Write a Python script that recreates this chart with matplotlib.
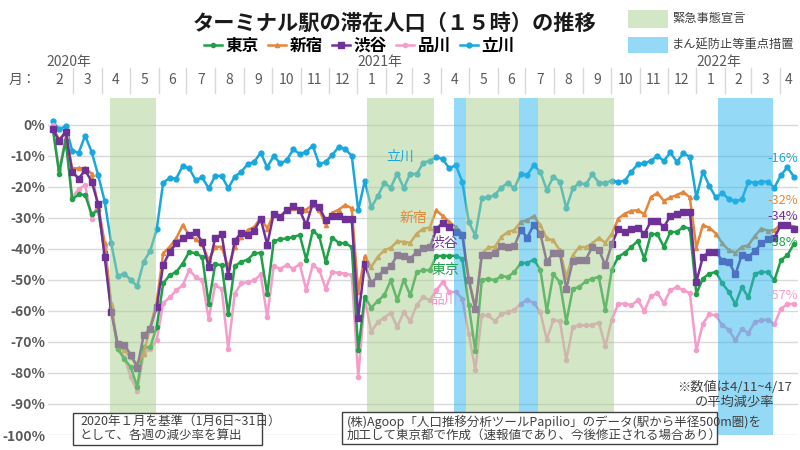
import matplotlib
matplotlib.use("Agg")
import matplotlib.pyplot as plt
import pandas as pd
from matplotlib.patches import Rectangle
from matplotlib.transforms import blended_transform_factory

plt.rcParams['font.family'] = ['Noto Sans CJK JP', 'DejaVu Sans']

# weekly data (week of 2020-02-03 ... week of 2022-04-11), % change vs Jan 2020
week_starts = pd.date_range("2020-02-03", "2022-04-11", freq="7D")

tokyo = [
    -1.0, -15.8, -5.0, -24.1, -22.5, -22.7, -28.9, -27.6, -41.0, -58.8,
    -72.2, -75.4, -78.1, -84.4, -71.7, -71.7, -65.2, -51.2, -48.5, -47.5,
    -44.8, -41.0, -41.5, -42.6, -57.7, -45.0, -45.3, -61.1, -45.6, -44.2,
    -43.5, -41.5, -41.3, -54.7, -37.6, -36.9, -36.7, -36.2, -35.6, -43.5,
    -34.2, -36.0, -44.2, -36.4, -38.1, -38.3, -39.4, -72.7, -55.5, -59.0,
    -56.8, -55.0, -50.2, -56.6, -50.0, -55.0, -47.5, -46.9, -46.9, -42.4,
    -42.3, -42.3, -42.3, -43.2, -58.2, -72.9, -50.2, -49.6, -50.2, -48.8,
    -49.1, -47.5, -44.6, -44.6, -43.5, -46.7, -60.2, -48.2, -50.7, -63.6,
    -52.9, -52.3, -50.5, -49.6, -49.1, -59.8, -46.7, -42.6, -41.3, -39.4,
    -37.5, -43.2, -35.3, -35.3, -39.4, -34.6, -34.6, -33.0, -33.5, -54.5,
    -49.6, -48.0, -47.5, -51.2, -53.9, -57.9, -52.3, -55.7, -48.0, -47.5,
    -47.5, -50.2, -43.7, -42.1, -38.5,
]
shinjuku = [
    -1.0, -4.8, -2.8, -14.1, -14.1, -14.1, -15.8, -26.5, -38.0, -58.0,
    -71.1, -72.7, -74.9, -77.0, -73.8, -65.2, -57.2, -41.5, -39.4, -36.7,
    -32.4, -35.6, -37.0, -38.5, -43.7, -39.4, -39.4, -46.0, -39.4, -36.2,
    -34.0, -33.0, -30.0, -33.5, -28.7, -29.7, -27.4, -27.0, -27.6, -27.4,
    -25.9, -27.6, -32.2, -28.4, -27.4, -25.9, -27.0, -53.9, -42.4, -45.9,
    -42.6, -40.5, -39.7, -37.6, -37.8, -38.1, -35.1, -33.5, -33.2, -27.6,
    -29.5, -31.3, -33.0, -35.1, -49.6, -59.3, -41.6, -39.6, -39.4, -36.2,
    -34.6, -34.0, -31.3, -30.8, -29.5, -32.4, -36.7, -37.3, -40.5, -49.1,
    -42.1, -39.4, -39.5, -38.3, -36.5, -38.1, -35.1, -30.3, -28.7, -27.8,
    -27.6, -28.9, -23.5, -22.0, -24.6, -23.5, -22.7, -21.7, -23.5, -39.7,
    -32.4, -33.2, -35.1, -38.3, -40.5, -41.3, -39.4, -38.9, -35.9, -33.5,
    -34.2, -34.0, -32.1, -32.1, -32.9,
]
shibuya = [
    -1.5, -5.2, -2.3, -15.2, -17.4, -14.7, -18.4, -25.6, -42.6, -60.4,
    -70.6, -70.9, -74.1, -78.3, -67.9, -65.7, -58.8, -45.3, -41.0, -38.3,
    -36.7, -35.6, -34.6, -37.8, -45.9, -36.5, -35.4, -48.8, -37.5, -34.8,
    -35.6, -34.2, -30.3, -38.7, -28.7, -29.7, -27.6, -26.3, -27.6, -32.4,
    -25.4, -26.7, -30.8, -29.5, -29.3, -30.3, -30.5, -62.2, -45.0, -51.0,
    -48.9, -46.7, -45.6, -42.1, -42.4, -43.2, -41.0, -39.9, -39.6, -33.7,
    -31.6, -33.0, -34.6, -35.6, -50.2, -59.3, -42.1, -42.1, -41.3, -39.2,
    -39.4, -39.2, -34.0, -36.4, -32.2, -35.1, -44.2, -41.3, -41.3, -52.9,
    -43.9, -43.5, -43.5, -39.4, -40.3, -45.3, -38.5, -33.5, -34.6, -33.5,
    -33.2, -35.3, -31.1, -31.1, -33.0, -29.5, -28.9, -28.1, -28.1, -50.7,
    -42.6, -41.0, -41.0, -43.9, -44.2, -48.3, -41.9, -42.6, -40.7, -38.3,
    -37.0, -36.4, -32.4, -32.4, -33.8,
]
shinagawa = [
    -0.2, -14.5, -4.5, -23.5, -20.8, -19.5, -30.3, -25.5, -39.4, -57.7,
    -72.2, -74.9, -81.3, -85.9, -73.8, -72.2, -69.5, -57.5, -55.7, -53.4,
    -51.8, -46.9, -49.1, -50.2, -62.5, -51.8, -52.9, -72.2, -54.5, -51.2,
    -50.7, -50.2, -48.3, -62.0, -45.6, -46.4, -45.3, -46.4, -45.0, -53.2,
    -45.3, -46.7, -52.9, -47.5, -47.8, -48.0, -48.5, -81.3, -56.1, -66.8,
    -63.6, -62.2, -60.7, -65.2, -60.4, -63.3, -58.2, -55.5, -56.6, -53.4,
    -50.7, -53.9, -53.9, -56.1, -67.4, -79.0, -61.5, -61.5, -63.3, -61.1,
    -60.4, -59.8, -57.7, -56.4, -57.5, -60.4, -69.3, -63.0, -63.3, -75.8,
    -65.2, -64.7, -64.7, -64.5, -63.8, -71.4, -62.8, -57.7, -57.7, -58.2,
    -56.6, -60.0, -55.3, -54.3, -57.5, -53.4, -52.3, -53.4, -54.3, -72.7,
    -64.1, -61.1, -61.5, -64.7, -66.1, -69.5, -65.8, -67.2, -63.6, -63.1,
    -62.8, -64.4, -59.3, -57.9, -57.7,
]
tachikawa = [
    1.1, -1.6, -0.5, -8.4, -9.1, -3.6, -8.8, -16.3, -24.7, -38.1,
    -48.8, -48.0, -50.0, -52.1, -44.2, -40.7, -33.8, -18.7, -17.2, -17.4,
    -13.4, -14.1, -17.9, -17.0, -20.6, -16.5, -16.6, -20.5, -16.8, -15.2,
    -12.8, -12.0, -9.1, -13.8, -10.1, -12.5, -11.5, -8.0, -9.5, -8.8,
    -6.8, -12.8, -12.0, -9.8, -7.2, -7.9, -10.1, -27.6, -18.2, -26.7,
    -23.1, -18.8, -20.3, -15.8, -20.5, -15.8, -16.0, -12.3, -11.7, -10.4,
    -11.2, -14.1, -13.1, -18.4, -31.3, -35.8, -23.8, -23.5, -22.7, -20.3,
    -18.8, -20.6, -15.8, -16.3, -13.1, -15.2, -21.1, -16.8, -18.4, -27.0,
    -20.6, -18.8, -19.3, -16.0, -18.8, -18.8, -18.1, -18.4, -18.1, -15.2,
    -12.8, -12.5, -11.7, -10.1, -11.7, -9.0, -12.0, -9.3, -10.4, -23.5,
    -15.2, -19.8, -23.5, -22.0, -24.1, -24.7, -24.1, -18.4, -18.8, -18.4,
    -18.4, -20.3, -16.3, -13.8, -16.8,
]

emergency = [("2020-04-07", "2020-05-25"), ("2021-01-08", "2021-03-21"),
             ("2021-04-25", "2021-06-20"), ("2021-07-12", "2021-09-30")]
priority = [("2021-04-12", "2021-04-24"), ("2021-06-21", "2021-07-11"),
            ("2022-01-21", "2022-03-21")]

final_labels = ["-16%", "-32%", "-34%", "-38%", "-57%"]

GREEN_BG = "#a9d08e"
BLUE_BG = "#2bb5ee"
GRAY = "#595959"
NOTE = "#404040"

series = [
    ("立川", tachikawa, "#1aa8dc", "o", 3.5),
    ("品川", shinagawa, "#f59ccb", "o", 3),
    ("東京", tokyo, "#1fa049", "o", 3),
    ("新宿", shinjuku, "#e4873a", "^", 3),
    ("渋谷", shibuya, "#6f3198", "s", 4.5),
]

fig = plt.figure(figsize=(8, 4.5), dpi=100)
ax = fig.add_axes([0.06, 0.0333, 0.937, 0.75])

x = week_starts + pd.Timedelta(days=5)
lines = {}
for name, vals, col, mk, ms in series:
    (ln,) = ax.plot(x, vals, color=col, lw=1.8, marker=mk, ms=ms, zorder=2)
    lines[name] = ln

# the bands in the source sit a few days to the right of the exact dates
shift = pd.Timedelta(days=3)
for periods, col in [(emergency, GREEN_BG), (priority, BLUE_BG)]:
    for s, e in periods:
        ax.axvspan(pd.Timestamp(s) + shift,
                   pd.Timestamp(e) + shift + pd.Timedelta(days=1),
                   color=col, alpha=0.5, lw=0, zorder=3)

x0, x1 = pd.Timestamp("2020-02-03"), pd.Timestamp("2022-04-20")
ax.set_xlim(x0, x1)
ax.set_ylim(-100, 8.7)
yt = list(range(-100, 1, 10))
ax.set_yticks(yt)
ax.set_yticklabels([f"{v}%" for v in yt], color=GRAY, fontsize=10,
                   fontweight="bold")
ax.set_xticks([])
ax.tick_params(length=0, pad=2)
ax.yaxis.grid(True, color="#d9d9d9", lw=1)
ax.set_axisbelow(True)
for sp in ax.spines.values():
    sp.set_visible(False)

# labels inside the plot
for txt, xd, yv, col in [("立川", "2021-02-16", -10.5, "#1aa8dc"),
                         ("新宿", "2021-03-03", -30.2, "#e4873a"),
                         ("渋谷", "2021-04-05", -38.2, "#6f3198"),
                         ("東京", "2021-04-06", -46.9, "#1fa049"),
                         ("品川", "2021-04-05", -56.6, "#f59ccb")]:
    ax.text(pd.Timestamp(xd), yv, txt, color=col, fontsize=10,
            ha="center", va="center", zorder=5)

right_cols = ["#1aa8dc", "#e4873a", "#6f3198", "#1fa049", "#f59ccb"]
right_y = [-11.1, -24.6, -29.5, -38.1, -55.0]
for lab, yv, col in zip(final_labels, right_y, right_cols):
    ax.text(pd.Timestamp("2022-03-19"), yv, lab, color=col, fontsize=9.3,
            ha="left", va="center", zorder=5, clip_on=False)

ax.text(pd.Timestamp("2022-02-11"), -84.7, "※数値は4/11~4/17", color=NOTE,
        fontsize=9.5, ha="center", va="center", zorder=5)
ax.text(pd.Timestamp("2022-02-11"), -89.5, "の平均減少率", color=NOTE,
        fontsize=9.5, ha="center", va="center", zorder=5)

# month header
tr = blended_transform_factory(ax.transData, fig.transFigure)
months = pd.date_range("2020-02-01", "2022-04-01", freq="MS")
for i, m in enumerate(months):
    nxt = months[i + 1] if i + 1 < len(months) else x1
    mid = m + (nxt - m) / 2
    ax.text(mid, 0.822, str(m.month), transform=tr, ha="center", va="center",
            color=GRAY, fontsize=10, clip_on=False)
    if i > 0:
        ax.plot([m, m], [0.793, 0.849], transform=tr, color="#d9d9d9",
                lw=1, clip_on=False)
    if m.month == 1 or i == 0:
        ax.text(m, 0.862, f"{m.year}年", transform=tr, ha="left",
                va="center", color=GRAY, fontsize=10, clip_on=False)
fig.text(0.0275, 0.822, "月：", ha="center", va="center", color=GRAY,
         fontsize=10)

fig.text(0.4935, 0.947, "ターミナル駅の滞在人口（１５時）の推移", ha="center",
         va="center", fontsize=15.3, fontweight="bold", color="#1a1a1a")

order = ["東京", "新宿", "渋谷", "品川", "立川"]
fig.legend([lines[n] for n in order], order, loc="center",
           bbox_to_anchor=(0.449, 0.898), ncol=5, frameon=False,
           handlelength=1.1, handletextpad=0.2, columnspacing=0.55,
           prop=dict(weight="bold", size=12))

# shading legend
fig.patches.append(Rectangle((0.785, 0.938), 0.05, 0.04, transform=fig.transFigure,
                             facecolor=GREEN_BG, alpha=0.5, lw=0))
fig.patches.append(Rectangle((0.785, 0.882), 0.05, 0.0356, transform=fig.transFigure,
                             facecolor=BLUE_BG, alpha=0.5, lw=0))
fig.text(0.84, 0.958, "緊急事態宣言", va="center", color=NOTE, fontsize=8.8)
fig.text(0.84, 0.9, "まん延防止等重点措置", va="center", color=NOTE,
         fontsize=8.8)

# note boxes
fig.patches.append(Rectangle((73 / 800, 1 - 445 / 450), 189 / 800, 32 / 450,
                             transform=fig.transFigure, facecolor="white",
                             edgecolor=NOTE, lw=1, zorder=4))
fig.text(80 / 800, 1 - 421.5 / 450, "2020年１月を基準（1月6日~31日）",
         va="center", fontsize=9, color=NOTE, zorder=5)
fig.text(80 / 800, 1 - 435.5 / 450, "として、各週の減少率を算出",
         va="center", fontsize=9, color=NOTE, zorder=5)
fig.patches.append(Rectangle((342 / 800, 1 - 444 / 450), 375 / 800, 32 / 450,
                             transform=fig.transFigure, facecolor="white",
                             edgecolor=NOTE, lw=1, zorder=4))
fig.text(347 / 800, 1 - 422 / 450,
         "(株)Agoop「人口推移分析ツールPapilio」のデータ(駅から半径500m圏)を",
         va="center", fontsize=9, color=NOTE, zorder=5)
fig.text(347 / 800, 1 - 435.5 / 450,
         "加工して東京都で作成（速報値であり、今後修正される場合あり）",
         va="center", fontsize=9, color=NOTE, zorder=5)

fig.savefig("out.png", dpi=100)
